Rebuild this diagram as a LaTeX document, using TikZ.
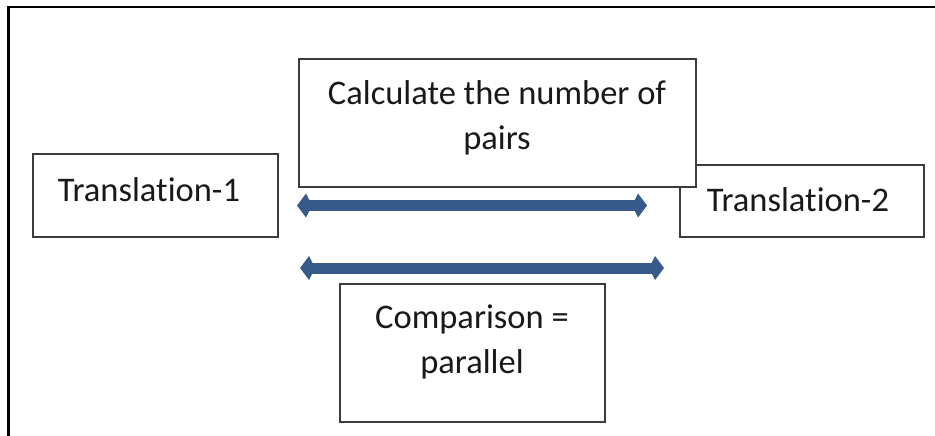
\documentclass[tikz,border=0pt]{standalone}
\usepackage{fontspec}
\setmainfont{Carlito}[RawFeature={-liga}]
\usetikzlibrary{arrows.meta}
\definecolor{arrowblue}{RGB}{55,90,138}
\definecolor{boxgray}{RGB}{60,60,60}
\tikzset{
  box/.style={draw=boxgray, line width=2pt, fill=white},
  lbl/.style={font=\fontsize{34.5}{45}\selectfont, align=center, text=black!90, inner sep=0pt},
  dblarrow/.style={draw=arrowblue, line width=11pt,
    {Kite[length=15pt,width=24pt,inset=6pt]}-{Kite[length=15pt,width=24pt,inset=6pt]}},
}
\begin{document}
\begin{tikzpicture}[x=1pt,y=-1pt]
\useasboundingbox (0,0) rectangle (935,436);
% outer frame
\draw[line width=2.5pt, black] (935,7) -- (8.5,7) -- (8.5,436);
% boxes
\node[box, minimum width=245pt, minimum height=83pt, anchor=north west] (t1) at (32,153) {};
\node[box, minimum width=244pt, minimum height=72pt, anchor=north west] (t2) at (679,163.5) {};
\node[box, minimum width=397pt, minimum height=128pt, anchor=north west] (calc) at (297.5,58) {};
\node[box, minimum width=265pt, minimum height=138pt, anchor=north west] (cmp) at (339,283) {};
% labels
\node[lbl] (t1l) at (149,190) {Translation-1};
\node[lbl] (t2l) at (798,200) {Translation-2};
\node[lbl] (calcl) at (497,118) {Calculate the number of\\pairs};
\node[lbl] (cmpl) at (472,342) {Comparison =\\parallel};
% arrows
\coordinate (a1l) at (297,205.5);
\coordinate (a1r) at (647,205.5);
\coordinate (a2l) at (300,268);
\coordinate (a2r) at (664,268);
\draw[dblarrow] (a1l) -- (a1r);
\draw[dblarrow] (a2l) -- (a2r);
\end{tikzpicture}
\end{document}
